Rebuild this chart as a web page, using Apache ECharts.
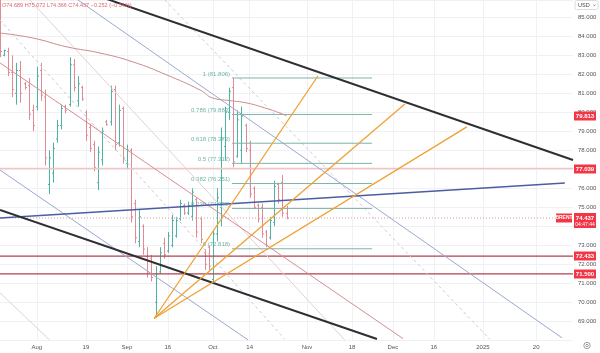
<!DOCTYPE html>
<html>
<head>
<meta charset="utf-8">
<script src="https://cdn.jsdelivr.net/npm/echarts@6/dist/echarts.min.js"></script>
<style>
  html, body { margin: 0; padding: 0; background: #fff; }
  #chart { width: 600px; height: 353px; }
</style>
</head>
<body>
<div id="chart"></div>
<script>
// x slots are trading days, slot 0 = Jul 19
const slotCount = 141;
const xTickIdx = [9, 21, 31, 41, 52, 61, 75, 86, 96, 106, 118, 131];
const xTickText = ["Aug", "19", "Sep", "16", "Oct", "14", "Nov", "18", "Dec", "16", "2025", "20"];

// daily bars: [open, high, low, close]
const ohlc = [
  [85.0, 86.2, 82.9, 83.2], [83.0, 83.3, 82.95, 83.25], [83.2, 83.4, 81.9, 82.1], [82.1, 83.0, 80.8, 81.2],
  [81.0, 82.6, 80.4, 82.2], [82.2, 82.7, 80.5, 81.0], [81.5, 81.6, 81.2, 81.3], [81.4, 81.8, 79.6, 79.9],
  [80.1, 80.4, 79.0, 79.3], [80.3, 82.4, 80.1, 81.9], [82.2, 82.6, 80.6, 80.9], [80.8, 81.2, 77.2, 77.6],
  [76.2, 78.0, 75.7, 77.6], [76.8, 78.4, 76.3, 78.1], [78.6, 79.6, 78.4, 79.3], [79.3, 80.4, 79.1, 80.2],
  [80.3, 80.4, 79.95, 80.1], [80.4, 82.9, 80.3, 82.5], [82.5, 82.8, 81.1, 81.3], [80.6, 81.9, 80.3, 81.5],
  [81.3, 81.4, 80.6, 80.7], [80.0, 80.1, 78.5, 78.8], [79.2, 79.4, 77.9, 78.1], [78.3, 78.5, 76.9, 77.1],
  [76.3, 78.2, 75.9, 77.9], [77.5, 79.2, 77.2, 79.0], [79.5, 79.6, 79.3, 79.35], [79.5, 81.4, 79.3, 81.1],
  [81.2, 81.4, 78.0, 78.3], [78.4, 80.4, 78.2, 80.1], [80.2, 80.3, 77.3, 77.6], [77.3, 78.3, 77.0, 78.0],
  [78.0, 78.1, 74.2, 74.5], [75.2, 75.4, 73.1, 73.4], [73.2, 74.9, 72.9, 74.5], [74.0, 74.1, 72.5, 72.8],
  [72.4, 72.9, 71.3, 71.6], [72.3, 72.5, 71.1, 71.3], [70.0, 71.9, 69.2, 71.5], [71.6, 72.9, 71.5, 72.6],
  [73.1, 73.4, 72.3, 72.5], [72.7, 73.7, 72.6, 73.5], [73.0, 74.6, 72.9, 74.3], [73.5, 74.5, 73.4, 74.3],
  [74.4, 75.4, 74.3, 75.2], [75.1, 75.2, 74.6, 74.7], [74.7, 75.3, 74.6, 75.1], [74.5, 76.0, 74.3, 75.8],
  [75.4, 75.5, 73.4, 73.7], [74.4, 74.5, 73.1, 73.3], [72.6, 72.8, 71.7, 72.0], [72.9, 73.0, 71.7, 71.9],
  [71.2, 73.8, 71.0, 73.6], [73.6, 76.0, 73.2, 75.5], [75.0, 79.2, 74.0, 78.6], [78.2, 80.3, 77.5, 80.0],
  [80.0, 81.3, 79.6, 81.1], [81.3, 81.8, 77.1, 77.4], [77.7, 80.1, 77.6, 79.6], [78.0, 80.3, 77.3, 79.8],
  [79.3, 79.4, 77.9, 78.1], [78.0, 78.5, 75.5, 75.7], [76.0, 76.1, 74.9, 75.0], [75.1, 75.2, 74.2, 74.4],
  [75.0, 75.2, 73.4, 73.6], [73.7, 73.8, 72.9, 73.0], [73.4, 74.5, 73.3, 74.3], [74.2, 76.4, 74.0, 76.1],
  [76.2, 76.3, 75.2, 75.4], [76.3, 76.7, 74.5, 74.7], [74.689, 75.072, 74.366, 74.437]
];

// moving average read at a few bars: [slot, value]
const maPoints = [
  [0, 84.17], [8, 83.91], [16.4, 83.44], [24.4, 83.12], [32.5, 82.65], [40.8, 81.96],
  [48.9, 81.17], [52, 80.75], [56, 80.62], [60.3, 80.49], [64.7, 80.23], [68.4, 79.96], [70, 79.813]
];

// drawn trend lines: [[slot, price], [slot, price]]
const blackLines = [
  [[24.4, 86.09], [140, 77.49]],
  [[0, 74.86], [92.1, 68.07]]
];
const slateLine = [[0, 74.44], [138, 76.28]];
const lightBlueLines = [
  [[19.05, 85.91], [137.3, 68.13]],
  [[0, 76.96], [60.6, 68.02]]
];
const redDiagonal = [[0, 82.6], [98.46, 68.09]];
const paleLines = [
  [[7.33, 85.91], [84.3, 68.0]],
  [[0, 70.5], [12.2, 68.0]]
];
const dashedLines = [
  [[0, 84.86], [69.6, 68.05]],
  [[40.3, 85.91], [119.7, 68.05]]
];
const fanPivot = [37.69, 69.16];
const fanEnds = [[77.67, 81.91], [98.92, 80.44], [114.07, 79.23]];

// fibonacci retracement
const fibLow = 72.818;
const fibHigh = 81.806;
const fibRatios = [0, 0.236, 0.382, 0.5, 0.618, 0.786, 1];
const fibFrom = 56.7;
const fibTo = 90.9;

// horizontal levels
const redLevels = [72.433, 71.5];
const pinkLevel = 77.039;
const lastPrice = 74.437;
const maLast = 79.813;

const upColor = "#4fb3a3";
const downColor = "#e28a93";

const chart = echarts.init(document.getElementById("chart"), null, { renderer: "canvas" });

function seg(points, color, width, extra) {
  return Object.assign({
    type: "line",
    xAxisIndex: 0,
    yAxisIndex: 0,
    data: points,
    symbol: "none",
    silent: true,
    animation: false,
    lineStyle: { color: color, width: width }
  }, extra || {});
}

function renderBar(params, api) {
  const i = api.value(0);
  const pH = api.coord([i, api.value(2)]);
  const pL = api.coord([i, api.value(3)]);
  const pO = api.coord([i, api.value(1)]);
  const pC = api.coord([i, api.value(4)]);
  const color = api.value(4) >= api.value(1) ? upColor : downColor;
  const x = Math.round(pH[0]) + 0.5;
  const st = { stroke: color, lineWidth: 1 };
  return {
    type: "group",
    children: [
      { type: "line", shape: { x1: x, y1: pH[1], x2: x, y2: pL[1] }, style: st },
      { type: "line", shape: { x1: x - 1.5, y1: pO[1], x2: x, y2: pO[1] }, style: st },
      { type: "line", shape: { x1: x, y1: pC[1], x2: x + 1.5, y2: pC[1] }, style: st }
    ]
  };
}

const series = [];

// full width levels
series.push(seg([[0, pinkLevel], [140, pinkLevel]], "#f1c4c6", 1.5));
redLevels.forEach(v => series.push(seg([[0, v], [140, v]], "#b2404e", 1.3)));
series.push(seg([[0, lastPrice], [140, lastPrice]], "#d9a0a4", 1, { lineStyle: { color: "#d9a0a4", width: 1, type: [1, 2] } }));

// faint drawings
paleLines.forEach(l => series.push(seg(l, "#e4cfd2", 1)));
dashedLines.forEach(l => series.push(seg(l, "#c9cad3", 1, { lineStyle: { color: "#c9cad3", width: 1, type: [3, 3] } })));
lightBlueLines.forEach(l => series.push(seg(l, "#98a9cf", 1)));
series.push(seg(redDiagonal, "#d98c8f", 1));

// fib levels
fibRatios.forEach(r => {
  const v = fibLow + (fibHigh - fibLow) * r;
  series.push(seg([[fibFrom, v], [fibTo, v]], "#7fb3aa", 1));
});
series.push({
  type: "scatter",
  xAxisIndex: 0,
  yAxisIndex: 0,
  silent: true,
  animation: false,
  symbolSize: 0,
  data: fibRatios.map(r => [fibFrom, fibLow + (fibHigh - fibLow) * r, r]),
  label: {
    show: true,
    position: "left",
    distance: 2,
    offset: [0, -4],
    color: "#4aa394",
    fontSize: 6,
    fontFamily: "Liberation Sans",
    formatter: p => p.value[2] + " (" + p.value[1].toFixed(3) + ")"
  }
});

// price bars
series.push({
  type: "custom",
  xAxisIndex: 0,
  yAxisIndex: 0,
  silent: true,
  animation: false,
  renderItem: renderBar,
  encode: { x: 0, y: [1, 2, 3, 4] },
  data: ohlc.map((r, i) => [i].concat(r))
});

// moving average
series.push(seg(maPoints, "#c98c8c", 1, { smooth: true }));

// heavier drawings on top
series.push(seg(slateLine, "#4b5da3", 1.5));
blackLines.forEach(l => series.push(seg(l, "#2e2e33", 2)));
fanEnds.forEach(e => series.push(seg([fanPivot, e], "#f0a030", 1.3)));

chart.setOption({
  animation: false,
  grid: { left: 0, right: 27, top: 0, bottom: 12.7 },
  xAxis: [
    { type: "value", min: 0, max: 140, show: false },
    {
      type: "category",
      position: "bottom",
      boundaryGap: false,
      data: Array.from({ length: slotCount }, (_, i) => {
        const k = xTickIdx.indexOf(i);
        return k >= 0 ? xTickText[k] : "";
      }),
      axisLine: { show: false },
      axisTick: { show: false },
      axisLabel: {
        interval: i => xTickIdx.indexOf(i) >= 0,
        color: "#555",
        fontSize: 6,
        fontFamily: "Liberation Sans",
        margin: 4
      },
      splitLine: {
        show: true,
        interval: i => xTickIdx.indexOf(i) >= 0,
        lineStyle: { color: "#f0f1f4", width: 1 }
      }
    }
  ],
  yAxis: {
    type: "value",
    position: "right",
    min: 68,
    max: 85.91,
    interval: 1,
    axisLine: { show: false },
    axisTick: { show: false },
    axisLabel: {
      color: "#555",
      fontSize: 6,
      fontFamily: "Liberation Sans",
      margin: 5,
      formatter: v => (Number.isInteger(v) && v >= 69) ? v.toFixed(3) : ""
    },
    splitLine: { lineStyle: { color: "#f0f1f4", width: 1 } }
  },
  series: series
});

// price scale badges
function badge(value, text, color) {
  const y = chart.convertToPixel({ yAxisIndex: 0 }, value);
  return [
    { type: "rect", shape: { x: 574, y: Math.round(y) - 4.5, width: 22, height: 9 }, style: { fill: color }, z: 100 },
    { type: "text", x: 585, y: Math.round(y), style: { text: text, fill: "#fff", fontSize: 6, fontWeight: "bold", fontFamily: "Liberation Sans", align: "center", verticalAlign: "middle" }, z: 101 }
  ];
}
const yLast = Math.round(chart.convertToPixel({ yAxisIndex: 0 }, lastPrice));
const graphics = [].concat(
  badge(maLast, maLast.toFixed(3), "#f23645"),
  badge(pinkLevel, pinkLevel.toFixed(3), "#f23645"),
  badge(redLevels[0], redLevels[0].toFixed(3), "#f23645"),
  badge(redLevels[1], redLevels[1].toFixed(3), "#f23645"),
  [
    { type: "rect", shape: { x: 574, y: yLast - 5, width: 22, height: 15 }, style: { fill: "#f23645" }, z: 100 },
    { type: "text", x: 585, y: yLast, style: { text: lastPrice.toFixed(3), fill: "#fff", fontSize: 6, fontWeight: "bold", fontFamily: "Liberation Sans", align: "center", verticalAlign: "middle" }, z: 101 },
    { type: "text", x: 585, y: yLast + 6.5, style: { text: "04:47:44", fill: "#fff", fontSize: 5, fontFamily: "Liberation Sans", align: "center", verticalAlign: "middle" }, z: 101 },
    { type: "rect", shape: { x: 556, y: yLast - 4.5, width: 16, height: 9 }, style: { fill: "#f23645" }, z: 100 },
    { type: "text", x: 564, y: yLast, style: { text: "BRENT", fill: "#fff", fontSize: 5, fontWeight: "bold", fontFamily: "Liberation Sans", align: "center", verticalAlign: "middle" }, z: 101 },
    { type: "rect", shape: { x: 575, y: 0.5, width: 23, height: 9, r: 1.5 }, style: { fill: "#fff", stroke: "#dcdde2", lineWidth: 1 }, z: 100 },
    { type: "text", x: 578, y: 5, style: { text: "USD", fill: "#444", fontSize: 5.5, fontFamily: "Liberation Sans", verticalAlign: "middle" }, z: 101 },
    { type: "text", x: 592, y: 4, style: { text: "⌄", fill: "#666", fontSize: 6, fontFamily: "DejaVu Sans", verticalAlign: "middle" }, z: 101 },
    { type: "circle", shape: { cx: 587, cy: 345.5, r: 3.2 }, style: { fill: "none", stroke: "#888", lineWidth: 0.8 }, z: 100 },
    { type: "circle", shape: { cx: 587, cy: 345.5, r: 1.2 }, style: { fill: "none", stroke: "#888", lineWidth: 0.8 }, z: 100 },
    { type: "text", x: 2, y: 5, style: { text: "O74.689 H75.072 L74.366 C74.437 \u22120.252 (\u22120.34%)", fill: "#e0656e", fontSize: 5.5, fontFamily: "Liberation Sans", verticalAlign: "middle" }, z: 101 }
  ]
);
chart.setOption({ graphic: graphics });
</script>
</body>
</html>
